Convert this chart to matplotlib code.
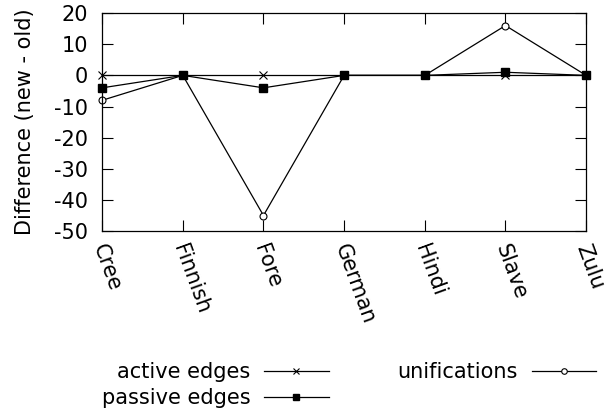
import matplotlib
matplotlib.use('Agg')
import matplotlib.pyplot as plt
import matplotlib.transforms as mtransforms

languages = ['Cree', 'Finnish', 'Fore', 'German', 'Hindi', 'Slave', 'Zulu']
active_edges = [0, 0, 0, 0, 0, 0, 0]
passive_edges = [-4, 0, -4, 0, 0, 1, 0]
unifications = [-8, 0, -45, 0, 0, 16, 0]

plt.rcParams['font.family'] = 'DejaVu Sans'
plt.rcParams['font.size'] = 15
plt.rcParams['axes.unicode_minus'] = False

fig = plt.figure(figsize=(6.08, 4.09), dpi=100)
ax = fig.add_axes([0.168, 0.435, 0.796, 0.533])

x = list(range(len(languages)))
ax.plot(x, active_edges, color='black', lw=0.9, marker='x', ms=5.5, mew=0.8,
        label='active edges', clip_on=False, zorder=3)
ax.plot(x, passive_edges, color='black', lw=0.9, marker='s', ms=6,
        label='passive edges', clip_on=False, zorder=4)
ax.plot(x, unifications, color='black', lw=0.9, marker='o', ms=5, mfc='white',
        mew=0.8, label='unifications', clip_on=False, zorder=2)

ax.set_xlim(0, 6)
ax.set_ylim(-50, 20)
ax.set_yticks(range(-50, 21, 10))
ax.set_xticks(x)
ax.set_xticklabels(languages, rotation=-70, ha='left', va='center',
                   rotation_mode='anchor')
ax.tick_params(direction='in', length=8, width=0.8, top=True, right=True,
               labelsize=15)
ax.tick_params(axis='y', pad=10)
ax.tick_params(axis='x', pad=10)
# nudge the rotated labels a little to the left
shift = mtransforms.ScaledTranslation(-0.04, 0, fig.dpi_scale_trans)
for lab in ax.get_xticklabels():
    lab.set_transform(lab.get_transform() + shift)
for s in ax.spines.values():
    s.set_linewidth(0.9)
ax.set_ylabel('Difference (new - old)', fontsize=15, labelpad=14)

handles, labels = ax.get_legend_handles_labels()
leg = fig.legend(handles, labels, loc='center', bbox_to_anchor=(0.574, 0.058),
                 bbox_transform=fig.transFigure, ncol=2, frameon=False,
                 markerfirst=False, handlelength=3.1, handletextpad=0.67,
                 columnspacing=3.3, labelspacing=0.3, fontsize=15,
                 markerscale=0.8)

fig.savefig('out.png', dpi=100)
